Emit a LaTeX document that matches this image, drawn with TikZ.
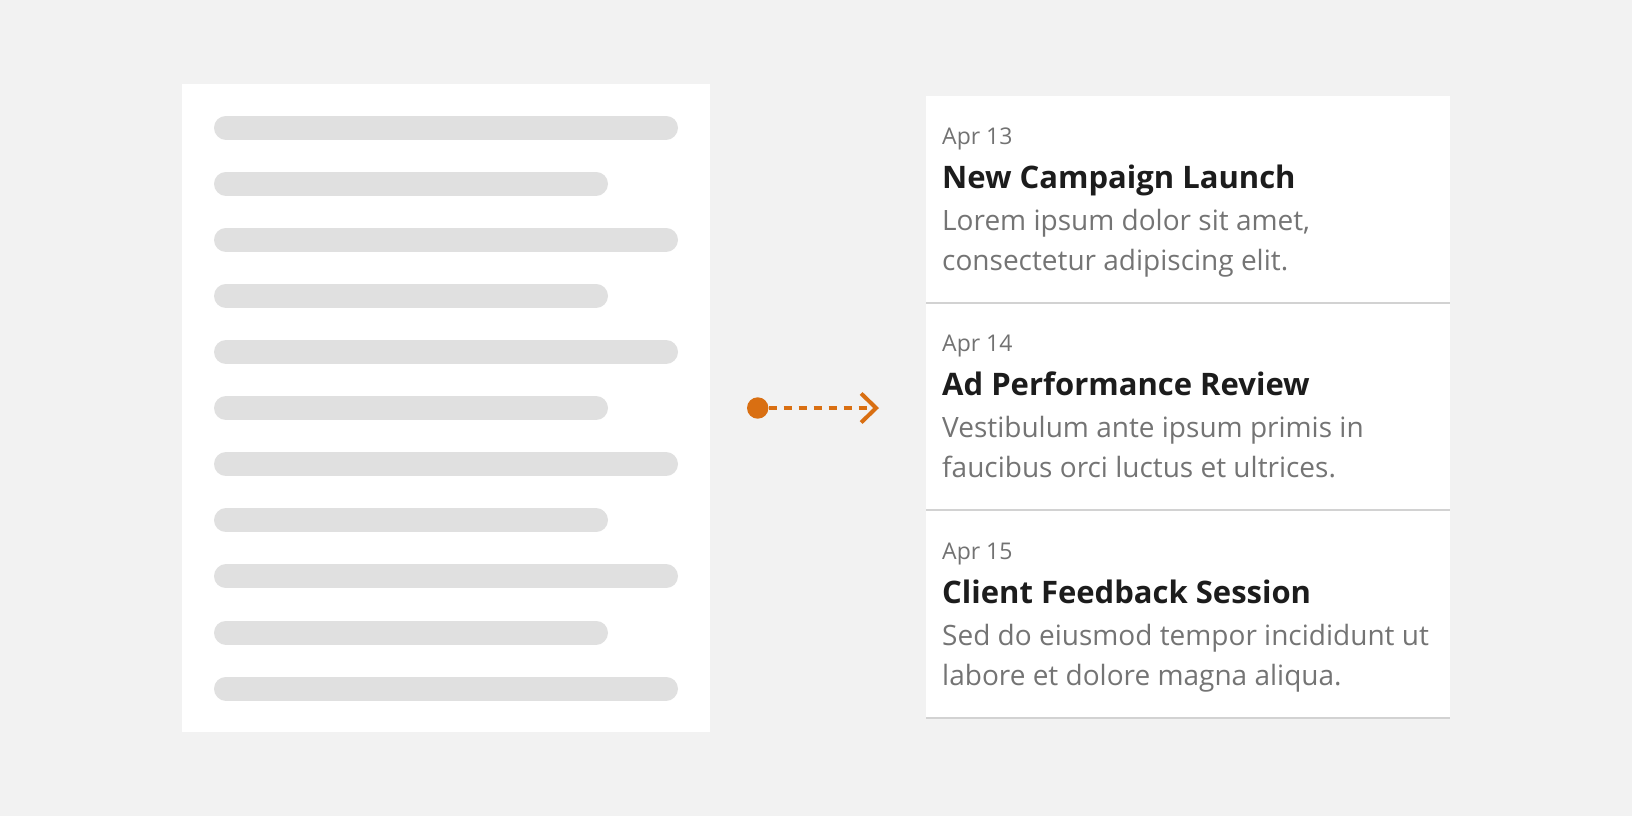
\documentclass[tikz,border=0pt]{standalone}
\usepackage{fontspec}
\setmainfont{Open Sans}
\usetikzlibrary{arrows.meta,positioning}

\definecolor{bgcol}{HTML}{F2F2F2}
\definecolor{barcol}{HTML}{E0E0E0}
\definecolor{rulecol}{HTML}{D2D2D2}
\definecolor{datecol}{HTML}{727272}
\definecolor{titlecol}{HTML}{1C1C1C}
\definecolor{bodycol}{HTML}{747474}
\definecolor{flowcol}{HTML}{D96F12}

\tikzset{
    page/.style={fill=white, minimum width=528pt, minimum height=648pt, inner sep=0pt},
    bar/.style={draw=barcol, line width=24pt, line cap=round},
    card/.style={fill=white, minimum width=524pt, minimum height=207.5pt, inner sep=0pt, anchor=north west},
    cardrule/.style={draw=rulecol, line width=2pt},
    datetext/.style={anchor=base west, inner sep=0pt, text=datecol, font=\fontsize{23}{27}\selectfont},
    titletext/.style={anchor=base west, inner sep=0pt, text=titlecol, font=\fontsize{31}{36}\selectfont\bfseries},
    bodytext/.style={anchor=base west, inner sep=0pt, text=bodycol, font=\fontsize{28}{34}\selectfont},
    dot/.style={circle, fill=flowcol, minimum size=21.4pt, inner sep=0pt},
    flow/.style={draw=flowcol, line width=4pt, dash pattern=on 8pt off 7pt,
        -{Straight Barb[length=15pt, width=29pt, line width=4pt]}}
}

\begin{document}
\begin{tikzpicture}[x=1pt, y=-1pt]
    \useasboundingbox[fill=bgcol] (0,0) rectangle (1632,816);

    \node[page] at (446, 408)(doc){};
    \foreach \i in {0,...,10}{
        \pgfmathsetmacro{\ybar}{127.6+56.1*\i}
        \pgfmathsetmacro{\xend}{isodd(\i) ? 596 : 666}
        \draw[bar] (226, \ybar) -- (\xend, \ybar);
    }

    \node[card] at (926, 96)(card1){};
    \node[card] at (926, 303.5)(card2){};
    \node[card] at (926, 511)(card3){};
    \foreach \k in {1,2,3}{
        \draw[cardrule] ([yshift=1pt]card\k.south west) -- ([yshift=1pt]card\k.south east);
    }

    \node[datetext] at (942, 144)(date1){Apr 13};
    \node[titletext] at (942, 188)(title1){New Campaign Launch};
    \node[bodytext] at (942, 230)(body1a){Lorem ipsum dolor sit amet,};
    \node[bodytext] at (942, 270)(body1b){consectetur adipiscing elit.};

    \node[datetext] at (942, 351.5)(date2){Apr 14};
    \node[titletext] at (942, 395.5)(title2){Ad Performance Review};
    \node[bodytext] at (942, 437.5)(body2a){Vestibulum ante ipsum primis in};
    \node[bodytext] at (942, 477.5)(body2b){faucibus orci luctus et ultrices.};

    \node[datetext] at (942, 559)(date3){Apr 15};
    \node[titletext] at (942, 603)(title3){Client Feedback Session};
    \node[bodytext] at (942, 645)(body3a){Sed do eiusmod tempor incididunt ut};
    \node[bodytext] at (942, 685)(body3b){labore et dolore magna aliqua.};

    \node[dot] at (757.7, 408)(src){};
    \coordinate (tip) at (879, 408);
    \path[flow] (src) -- (tip);
\end{tikzpicture}
\end{document}
